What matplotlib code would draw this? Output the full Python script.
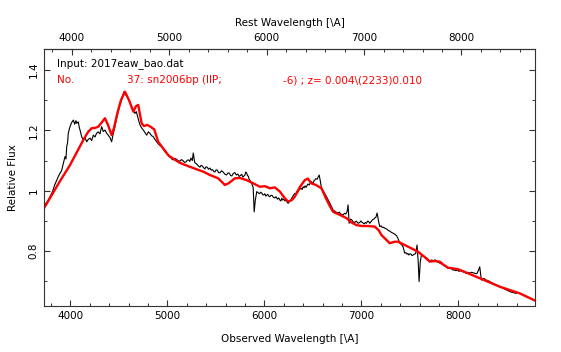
import matplotlib
matplotlib.use("Agg")
import matplotlib.pyplot as plt
from matplotlib.ticker import MultipleLocator, FixedLocator, FuncFormatter

# observed spectrum (black)
obs_wave = [3732, 3760, 3791, 3815, 3840, 3860, 3878, 3894, 3910, 3928, 3945, 3955, 3963, 3972,
            3979, 3990, 3997, 4012, 4031, 4045, 4058, 4066, 4082, 4092, 4100, 4117, 4134, 4150,
            4169, 4185, 4203, 4220, 4237, 4255, 4270, 4288, 4305, 4323, 4340, 4357, 4375, 4391,
            4410, 4426, 4440, 4460, 4477, 4494, 4512, 4529, 4540, 4553, 4570, 4587, 4610, 4632,
            4650, 4666, 4680, 4694, 4705, 4718, 4735, 4752, 4770, 4787, 4805, 4821, 4838, 4855,
            4872, 4890, 4915, 4941, 4975, 5009, 5022, 5035, 5048, 5061, 5078, 5095, 5112, 5130,
            5145, 5160, 5176, 5192, 5206, 5220, 5232, 5243, 5258, 5267, 5275, 5284, 5297, 5310,
            5323, 5336, 5348, 5360, 5374, 5387, 5398, 5410, 5425, 5439, 5452, 5465, 5478, 5490,
            5503, 5515, 5528, 5542, 5558, 5575, 5592, 5611, 5625, 5640, 5652, 5665, 5680, 5695,
            5711, 5727, 5740, 5752, 5766, 5779, 5790, 5800, 5808, 5817, 5826, 5835, 5843, 5851,
            5862, 5872, 5885, 5895, 5907, 5922, 5936, 5950, 5962, 5974, 5985, 5995, 6005, 6015,
            6025, 6035, 6046, 6057, 6068, 6080, 6094, 6108, 6120, 6135, 6148, 6160, 6170, 6180,
            6190, 6201, 6213, 6225, 6235, 6245, 6255, 6265, 6275, 6283, 6292, 6300, 6314, 6325,
            6335, 6345, 6355, 6368, 6380, 6390, 6400, 6410, 6420, 6430, 6438, 6450, 6462, 6474,
            6486, 6495, 6505, 6513, 6520, 6532, 6545, 6555, 6565, 6578, 6589, 6613, 6641, 6675,
            6709, 6735, 6757, 6772, 6785, 6798, 6812, 6826, 6840, 6852, 6863, 6874, 6888, 6901,
            6915, 6930, 6948, 6967, 6985, 6995, 7004, 7017, 7030, 7041, 7052, 7064, 7075, 7086,
            7097, 7112, 7128, 7140, 7150, 7162, 7179, 7190, 7202, 7215, 7228, 7241, 7253, 7265,
            7279, 7293, 7310, 7327, 7345, 7365, 7380, 7396, 7412, 7430, 7447, 7458, 7470, 7480,
            7489, 7500, 7510, 7522, 7533, 7548, 7560, 7574, 7586, 7595, 7607, 7619, 7636, 7653,
            7666, 7680, 7692, 7705, 7718, 7730, 7744, 7757, 7771, 7785, 7797, 7808, 7828, 7849,
            7870, 7893, 7912, 7930, 7946, 7962, 7976, 7990, 8002, 8014, 8032, 8050, 8066, 8083,
            8096, 8110, 8124, 8137, 8150, 8165, 8178, 8192, 8205, 8220, 8237, 8254, 8271, 8285,
            8300, 8312, 8323, 8337, 8350, 8362, 8374, 8388, 8400, 8413, 8426, 8438, 8450, 8463,
            8477, 8490, 8505, 8517, 8529, 8545, 8560, 8580, 8598]
obs_flux = [0.953, 0.962, 0.980, 0.996, 1.020, 1.035, 1.048, 1.058, 1.066, 1.091, 1.113, 1.105, 1.146, 1.160,
            1.190, 1.205, 1.212, 1.225, 1.234, 1.220, 1.232, 1.223, 1.228, 1.210, 1.201, 1.179, 1.168, 1.176,
            1.162, 1.170, 1.174, 1.166, 1.184, 1.178, 1.190, 1.195, 1.188, 1.212, 1.196, 1.201, 1.190, 1.184,
            1.175, 1.162, 1.185, 1.212, 1.240, 1.262, 1.285, 1.300, 1.315, 1.328, 1.318, 1.311, 1.295, 1.278,
            1.265, 1.256, 1.262, 1.245, 1.232, 1.218, 1.208, 1.201, 1.192, 1.184, 1.195, 1.190, 1.182, 1.179,
            1.170, 1.162, 1.152, 1.146, 1.130, 1.118, 1.112, 1.110, 1.104, 1.102, 1.107, 1.104, 1.099, 1.098,
            1.103, 1.100, 1.094, 1.095, 1.101, 1.102, 1.097, 1.108, 1.100, 1.125, 1.108, 1.092, 1.090, 1.086,
            1.081, 1.078, 1.084, 1.082, 1.076, 1.072, 1.079, 1.078, 1.071, 1.075, 1.068, 1.070, 1.064, 1.062,
            1.069, 1.068, 1.060, 1.059, 1.066, 1.062, 1.055, 1.052, 1.059, 1.058, 1.050, 1.049, 1.057, 1.060,
            1.052, 1.055, 1.047, 1.050, 1.054, 1.045, 1.049, 1.052, 1.062, 1.059, 1.050, 1.048, 1.038, 1.035,
            1.028, 1.022, 1.010, 0.930, 0.969, 0.997, 0.993, 0.990, 0.995, 0.992, 0.986, 0.986, 0.990, 0.982,
            0.985, 0.988, 0.982, 0.980, 0.985, 0.984, 0.978, 0.976, 0.980, 0.972, 0.976, 0.969, 0.966, 0.975,
            0.969, 0.972, 0.966, 0.968, 0.962, 0.958, 0.963, 0.965, 0.970, 0.976, 0.980, 0.985, 0.991, 0.989,
            0.998, 0.995, 1.002, 1.005, 1.008, 1.004, 1.013, 1.010, 1.016, 1.011, 1.016, 1.022, 1.019, 1.026,
            1.030, 1.025, 1.027, 1.034, 1.035, 1.040, 1.038, 1.046, 1.052, 1.030, 1.008, 0.996, 0.980, 0.959,
            0.936, 0.930, 0.926, 0.929, 0.924, 0.921, 0.920, 0.925, 0.923, 0.930, 0.953, 0.892, 0.906, 0.903,
            0.897, 0.895, 0.899, 0.892, 0.895, 0.900, 0.896, 0.893, 0.890, 0.895, 0.892, 0.899, 0.898, 0.892,
            0.896, 0.903, 0.906, 0.910, 0.912, 0.926, 0.896, 0.881, 0.884, 0.878, 0.879, 0.876, 0.874, 0.872,
            0.868, 0.866, 0.862, 0.859, 0.856, 0.850, 0.840, 0.826, 0.822, 0.814, 0.793, 0.795, 0.790, 0.792,
            0.787, 0.791, 0.790, 0.785, 0.787, 0.790, 0.792, 0.820, 0.764, 0.699, 0.764, 0.787, 0.783, 0.781,
            0.778, 0.776, 0.770, 0.765, 0.770, 0.770, 0.767, 0.771, 0.768, 0.764, 0.762, 0.760, 0.757, 0.754,
            0.750, 0.743, 0.744, 0.741, 0.737, 0.737, 0.735, 0.738, 0.733, 0.734, 0.735, 0.731, 0.729, 0.726,
            0.727, 0.729, 0.727, 0.730, 0.728, 0.727, 0.725, 0.726, 0.735, 0.748, 0.704, 0.709, 0.708, 0.704,
            0.703, 0.701, 0.699, 0.697, 0.695, 0.693, 0.691, 0.688, 0.687, 0.684, 0.682, 0.680, 0.679, 0.676,
            0.674, 0.672, 0.670, 0.668, 0.666, 0.664, 0.663, 0.661, 0.660]

# template fit (red)
tmpl_wave = [3732, 3894, 3997, 4134, 4182, 4220, 4254, 4288, 4326, 4357, 4388, 4426, 4450, 4484,
             4522, 4563, 4605, 4649, 4677, 4700, 4735, 4759, 4793, 4831, 4865, 4906, 4955, 5009,
             5027, 5130, 5233, 5370, 5439, 5524, 5562, 5593, 5634, 5696, 5748, 5817, 5882, 5954,
             6005, 6057, 6108, 6160, 6211, 6245, 6283, 6314, 6366, 6417, 6448, 6486, 6531, 6589,
             6633, 6675, 6709, 6778, 6847, 6891, 6950, 7004, 7066, 7138, 7179, 7207, 7258, 7293,
             7345, 7379, 7447, 7516, 7584, 7653, 7705, 7757, 7808, 7849, 7893, 7996, 8117, 8220,
             8323, 8426, 8529, 8632, 8790]
tmpl_flux = [0.944, 1.032, 1.085, 1.168, 1.194, 1.207, 1.208, 1.212, 1.227, 1.240, 1.218, 1.184, 1.208, 1.256,
             1.300, 1.328, 1.300, 1.262, 1.280, 1.284, 1.223, 1.214, 1.218, 1.211, 1.203, 1.162, 1.141, 1.118,
             1.113, 1.092, 1.079, 1.063, 1.052, 1.041, 1.029, 1.019, 1.025, 1.041, 1.042, 1.035, 1.025, 1.013,
             1.015, 1.008, 1.011, 0.997, 0.975, 0.964, 0.969, 0.980, 1.012, 1.035, 1.040, 1.024, 1.019, 1.008,
             0.976, 0.949, 0.930, 0.920, 0.909, 0.896, 0.886, 0.883, 0.883, 0.881, 0.869, 0.853, 0.837, 0.826,
             0.831, 0.831, 0.820, 0.809, 0.798, 0.780, 0.765, 0.767, 0.765, 0.754, 0.745, 0.740, 0.724, 0.710,
             0.696, 0.682, 0.671, 0.660, 0.636]

redshift = 0.004
rest_ticks = [4000, 5000, 6000, 7000, 8000]
input_label = "Input: 2017eaw_bao.dat"
match_parts = ["No.", "37: sn2006bp (IIP;", "-6) ; z= 0.004\\(2233)0.010"]

plt.rcParams['font.family'] = ['DejaVu Sans']
plt.rcParams['font.size'] = 7.5

fig = plt.figure(figsize=(5.61, 3.52), dpi=100)
ax = fig.add_axes([0.079, 0.1315, 0.8747, 0.7307])

ax.plot(obs_wave, obs_flux, color="black", lw=0.8)
ax.plot(tmpl_wave, tmpl_flux, color="#ff0000", lw=1.7)

ax.set_xlim(3732, 8790)
ax.set_ylim(0.619, 1.471)

ax.xaxis.set_major_locator(MultipleLocator(1000))
ax.xaxis.set_minor_locator(MultipleLocator(200))
ax.yaxis.set_major_locator(MultipleLocator(0.2))
ax.yaxis.set_minor_locator(MultipleLocator(0.1))
ax.yaxis.set_major_formatter(FuncFormatter(lambda v, p: "{:g}".format(round(v, 2))))
ax.tick_params(which="both", direction="in", top=False, right=True, color="#333333")
ax.tick_params(which="major", length=4.5, width=0.8, pad=4)
ax.tick_params(which="minor", length=2.2, width=0.7)
for lab in ax.get_yticklabels():
    lab.set_rotation(90)
    lab.set_va("center")

# rest frame axis on top
top = ax.secondary_xaxis("top", functions=(lambda w: w / (1 + redshift), lambda r: r * (1 + redshift)))
top.xaxis.set_major_locator(FixedLocator(rest_ticks))
top.xaxis.set_minor_locator(FixedLocator(list(range(3800, 8800, 200))))
top.tick_params(which="both", direction="in", color="#333333")
top.tick_params(which="major", length=4.5, width=0.8, pad=4)
top.tick_params(which="minor", length=2.2, width=0.7)
top.set_xlabel("Rest Wavelength [\\A]", labelpad=5)

for s in ax.spines.values():
    s.set_linewidth(0.8)
    s.set_color("#333333")

ax.set_xlabel("Observed Wavelength [\\A]", labelpad=9)
ax.set_ylabel("Relative Flux", labelpad=8)

ax.text(0.026, 0.94, input_label, transform=ax.transAxes, va="center", ha="left")
ax.text(0.026, 0.877, match_parts[0], transform=ax.transAxes, va="center", ha="left", color="#ff0000")
ax.text(0.168, 0.877, match_parts[1], transform=ax.transAxes, va="center", ha="left", color="#ff0000")
ax.text(0.486, 0.877, match_parts[2], transform=ax.transAxes, va="center", ha="left", color="#ff0000")

fig.savefig("out.png", dpi=100)
